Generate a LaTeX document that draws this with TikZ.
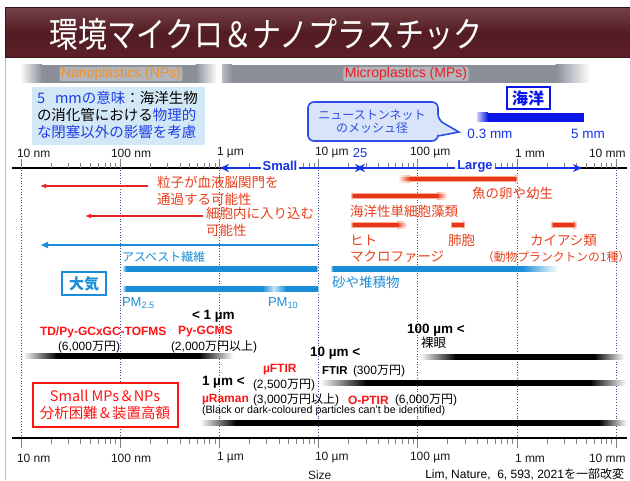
\documentclass[tikz,border=0pt]{standalone}
\usepackage{fontspec}
\setmainfont{Liberation Sans}
\newfontfamily\jp{Noto Sans CJK JP}
\usetikzlibrary{arrows.meta}
\definecolor{maroon}{HTML}{5C1F27}
\definecolor{npor}{HTML}{F7901E}
\definecolor{mpred}{HTML}{EE1C25}
\definecolor{infobg}{HTML}{D3E8F6}
\definecolor{infoblue}{HTML}{1F3FE6}
\definecolor{callfill}{HTML}{D9E3FA}
\definecolor{callblue}{HTML}{2C4EE6}
\definecolor{oceanblue}{HTML}{0A16E8}
\definecolor{skyblue}{HTML}{1A8DD8}
\definecolor{lblred}{HTML}{E8401C}
\definecolor{arrred}{HTML}{E62222}
\definecolor{barred}{HTML}{E8361A}
\definecolor{barglow}{HTML}{F8AE8C}
\definecolor{anred}{HTML}{FF1414}
\definecolor{gridc}{HTML}{3B4E8C}
\definecolor{bandgray}{HTML}{8A8F98}
\definecolor{axblue}{HTML}{1434E6}
% color, x1, x2, y, half height, left fade, right fade
\newcommand\gradbar[7]{%
  \shade[left color=white,right color=#1] (#2,#4-#5) rectangle (#2+#6,#4+#5);
  \fill[#1] (#2+#6-0.3,#4-#5) rectangle (#3-#7+0.3,#4+#5);
  \shade[left color=#1,right color=white] (#3-#7,#4-#5) rectangle (#3,#4+#5);}
\newcommand\redbar[5]{%
  \gradbar{barglow}{#1}{#2}{#3}{3.2}{#4}{#5}%
  \gradbar{barred}{#1}{#2}{#3}{1.6}{#4}{#5}}
\begin{document}
\begin{tikzpicture}[x=1pt,y=-1pt,
  every node/.style={inner sep=0pt,outer sep=0pt},
  axl/.style={font=\fontsize{12}{13}\selectfont, text=black!90, anchor=west},
  jred/.style={font=\jp\fontsize{13.5}{16}\selectfont, text=lblred, anchor=west},
  jsky/.style={font=\jp\fontsize{13}{16}\selectfont, text=skyblue, anchor=west},
  boldl/.style={font=\bfseries\fontsize{13.5}{15}\selectfont, anchor=west},
  anl/.style={font=\bfseries\fontsize{12}{14}\selectfont, text=anred, anchor=west},
  costl/.style={font=\fontsize{12}{14}\selectfont, anchor=west},
  gridl/.style={gridc, dotted, line width=0.7pt},
  tickl/.style={black!50, line width=0.6pt},
  redarr/.style={arrred, line width=1.3pt, -{Latex[length=6pt,width=5pt]}},
  infol/.style={font=\jp\fontsize{14.5}{16}\selectfont, anchor=west},
  bluebox/.style={fill=white, line width=2pt, minimum height=22pt, minimum width=43pt},
  bandtxt/.style={font=\fontsize{14}{15}\selectfont, fill=white, fill opacity=0.35, text opacity=1, inner xsep=1.5pt, inner ysep=0.5pt, rounded corners=2pt},
]
\useasboundingbox (0,0) rectangle (630,481);
\fill[white] (0,0) rectangle (630,481);
\draw[black!25, line width=0.6pt] (5,58) -- (5,480);

% title bar
\shade[top color=maroon!85!white, bottom color=maroon, middle color=maroon!90!black] (5,8) rectangle (630,58);
\draw[maroon!60!black, line width=1pt] (5,8) rectangle (630,58);
\node[text=white] (title) at (266,34) {\fontsize{29}{30}\jp\selectfont\scalebox{1}[1.2]{環境マイクロ＆ナノプラスチック}};

% header bands
\shade[left color=white, right color=bandgray] (20,65) rectangle (42,83);
\fill[bandgray] (41.7,65) rectangle (196,83);
\shade[left color=bandgray, right color=white] (195.7,65) rectangle (217,83);
\shade[left color=bandgray!60, right color=bandgray] (222,65) rectangle (232,83);
\fill[bandgray] (231.7,65) rectangle (556,83);
\shade[left color=bandgray, right color=white] (555.7,65) rectangle (590,83);
\node[bandtxt, text=npor] (np) at (121,74) {Nanoplastics (NPs)};
\node[bandtxt, text=mpred] (mp) at (406,74) {Microplastics (MPs)};

% info box
\fill[infobg] (32,87) rectangle (205,145);
\node[infol] (inf1) at (37,98) {\textcolor{infoblue}{5\hspace{10pt}mmの意味}：海洋生物};
\node[infol] (inf2) at (37,115) {の消化管における\textcolor{infoblue}{物理的}};
\node[infol] (inf3) at (37,132) {\textcolor{infoblue}{な閉塞以外の影響を考慮}};

% callout
\draw[callblue, fill=callfill, line width=1.6pt, rounded corners=6pt] (308,102) -- (438,102) -- (438,120) [sharp corners] -- (459,132) -- (438,136) [rounded corners=6pt] -- (438,141) -- (308,141) -- cycle;
\node[font=\jp\fontsize{12}{13.5}\selectfont, text=callblue, align=center] (call) at (372,121.5) {ニューストンネット\\のメッシュ径};

% ocean
\node[bluebox, draw=oceanblue, font=\jp\bfseries\fontsize{16}{18}\selectfont, text=oceanblue] (ocean) at (528,98) {海洋};
\shade[left color=oceanblue!20, right color=oceanblue] (477,113) rectangle (488,122);
\fill[oceanblue] (487.7,113) rectangle (584,122);
\node[font=\fontsize{13.5}{14}\selectfont, text=axblue] (d03) at (490,134) {0.3 mm};
\node[font=\fontsize{13.5}{14}\selectfont, text=axblue] (d5) at (588,134) {5 mm};

% grid lines
\foreach \d in {0,...,6} {
  \draw[gridl] ({21+99.2*\d},170) -- ({21+99.2*\d},436);
}
% axes
\draw[black, line width=1.8pt] (12,168) -- (627,168);
\draw[black, line width=1.8pt] (12,438) -- (627,438);
\foreach \d in {0,...,5} {
  \foreach \k in {2,...,9} {
    \draw[tickl] ({21+99.2*(\d+log10(\k))},163) -- ++(0,5);
    \draw[tickl] ({21+99.2*(\d+log10(\k))},439) -- ++(0,5);
  }
}
\foreach \d in {0,...,6} {
  \draw[tickl, line width=0.8pt] ({21+99.2*\d},159) -- ++(0,9);
  \draw[tickl, line width=0.8pt] ({21+99.2*\d},439) -- ++(0,9);
}
% top labels
\node[axl] (t1) at (17,153) {10 nm};
\node[axl] (t2) at (111,153) {100 nm};
\node[axl] (t3) at (217,153) {1 µm};
\node[axl] (t4) at (315,153) {10 µm};
\node[axl] (t5) at (410,153) {100 µm};
\node[axl] (t6) at (515,153) {1 mm};
\node[axl] (t7) at (589,153) {10 mm};
\node[font=\fontsize{13}{14}\selectfont, text=axblue] (t25) at (360,153) {25};
% bottom labels
\node[axl] (b1) at (17,458) {10 nm};
\node[axl] (b2) at (111,458) {100 nm};
\node[axl] (b3) at (217,458) {1 µm};
\node[axl] (b4) at (315,458) {10 µm};
\node[axl] (b5) at (410,458) {100 µm};
\node[axl] (b6) at (515,458) {1 mm};
\node[axl] (b7) at (589,458) {10 mm};
\node[axl] (size) at (308,475) {Size};
\node[font=\fontsize{12}{13}\selectfont, anchor=east] (ref) at (624,474) {Lim, Nature, \ 6, 593, 2021{\jp を一部改変}};

% Small / Large arrows
\coordinate (s1) at (220,168);
\coordinate (s2) at (364,168);
\coordinate (l1) at (356,168);
\coordinate (l2) at (582,168);
\draw[axblue, line width=2pt, {Stealth[length=9pt,width=8pt]}-{Stealth[length=9pt,width=8pt]}] (s1) -- (s2);
\draw[axblue, line width=2pt, {Stealth[length=9pt,width=8pt]}-{Stealth[length=9pt,width=8pt]}] (l1) -- (l2);
\node[fill=white, inner xsep=2pt, inner ysep=1pt, font=\bfseries\fontsize{13}{14}\selectfont, text=axblue] (small) at (280,166) {Small};
\node[fill=white, inner xsep=2pt, inner ysep=1pt, font=\bfseries\fontsize{13}{14}\selectfont, text=axblue] (large) at (475,166) {Large};

% red arrows and labels
\coordinate (r1a) at (148,186);
\coordinate (r1b) at (40,186);
\coordinate (r2a) at (203,216);
\coordinate (r2b) at (85,216);
\draw[redarr] (r1a) -- (r1b);
\draw[redarr] (r2a) -- (r2b);
\node[jred] (bbb1) at (157,182) {粒子が血液脳関門を};
\node[jred] (bbb2) at (157,199) {通過する可能性};
\node[jred] (cell1) at (206,213) {細胞内に入り込む};
\node[jred] (cell2) at (206,230) {可能性};

% red bars
\redbar{398}{518}{179}{12}{3}
\redbar{350}{447}{196}{3}{10}
\redbar{350}{407}{225}{3}{10}
\redbar{450}{465}{225}{2}{2}
\redbar{550}{577}{225}{3}{4}
\node[jred] (fish) at (472,193) {魚の卵や幼生};
\node[jred] (algae) at (350,211) {海洋性単細胞藻類};
\node[jred] (hito) at (350,240) {ヒト};
\node[jred] (macro) at (350,257) {マクロファージ};
\node[jred] (alv) at (448,240) {肺胞};
\node[jred] (cope) at (530,240) {カイアシ類};
\node[jred, font=\jp\fontsize{11.8}{15}\selectfont] (zoo) at (482,257) {（動物プランクトンの1種）};

% asbestos
\coordinate (a1) at (318,245);
\coordinate (a2) at (40,245);
\draw[skyblue, line width=1.8pt, -{Latex[length=8pt,width=7pt]}] (a1) -- (a2);
\node[jsky, font=\jp\fontsize{12}{15}\selectfont] (asb) at (122,257) {アスベスト繊維};

% light blue bars
\gradbar{skyblue}{122}{318}{269}{2.6}{4}{2}
\gradbar{skyblue}{330}{558}{269}{2.6}{3}{36}
\gradbar{skyblue}{122}{319}{289}{2.6}{4}{2}
\shade[left color=skyblue, right color=skyblue!25] (262,286.4) rectangle (274,291.6);
\shade[left color=skyblue!25, right color=skyblue] (273.7,286.4) rectangle (286,291.6);
\node[bluebox, draw=skyblue, minimum width=44pt, minimum height=23pt, font=\jp\bfseries\fontsize{15}{17}\selectfont, text=skyblue] (air) at (84,283.5) {大気};
\node[font=\fontsize{13}{14}\selectfont, text=skyblue, anchor=west] (pm25) at (122,303) {PM\textsubscript{2.5}};
\node[font=\fontsize{13}{14}\selectfont, text=skyblue, anchor=west] (pm10) at (268,303) {PM\textsubscript{10}};
\node[jsky, font=\jp\fontsize{13.5}{16}\selectfont] (sand) at (332,282) {砂や堆積物};

% analysis section
\node[boldl] (lt1) at (192,316) {< 1 µm};
\node[anl] (tdpy) at (40,332) {TD/Py-GCxGC-TOFMS};
\node[anl] (pygc) at (178,332) {Py-GCMS};
\node[costl] (c1) at (58,347) {(6,000{\jp 万円})};
\node[costl] (c2) at (171,347) {(2,000{\jp 万円以上})};
\gradbar{black}{23}{233}{356}{2.8}{34}{34}

\node[boldl] (lt100) at (407,330) {100 µm <};
\node[costl, font=\jp\fontsize{12.5}{14}\selectfont] (eye) at (421,343) {裸眼};
\gradbar{black}{420}{624}{357}{2.8}{36}{30}

\node[boldl] (lt10) at (310,353) {10 µm <};
\node[anl] (ufti) at (263,370) {µFTIR};
\node[font=\bfseries\fontsize{11.5}{13}\selectfont, anchor=west] (ftir) at (322,371) {FTIR};
\node[costl] (c3) at (353,371) {(300{\jp 万円})};
\node[boldl] (lt1b) at (202,382) {1 µm <};
\node[costl] (c4) at (253,385) {(2,500{\jp 万円})};
\gradbar{black}{320}{626}{383}{2.8}{46}{36}

\node[anl] (uram) at (202,400) {µRaman};
\node[costl] (c5) at (253,400) {(3,000{\jp 万円以上})};
\node[anl] (optir) at (348,400) {O-PTIR};
\node[costl] (c6) at (395,400) {(6,000{\jp 万円})};
\node[font=\fontsize{10.7}{12}\selectfont, anchor=west] (black) at (202,411) {(Black or dark-coloured particles can’t be identified)};
\gradbar{black}{200}{627}{423}{2.8}{36}{28}

\node[draw=anred, line width=2pt, fill=white, minimum width=145pt, minimum height=44pt, align=center, text=anred, font=\jp\fontsize{14.5}{17}\selectfont] (anbox) at (105,405) {Small MPs＆NPs\\分析困難＆装置高額};
\end{tikzpicture}
\end{document}
